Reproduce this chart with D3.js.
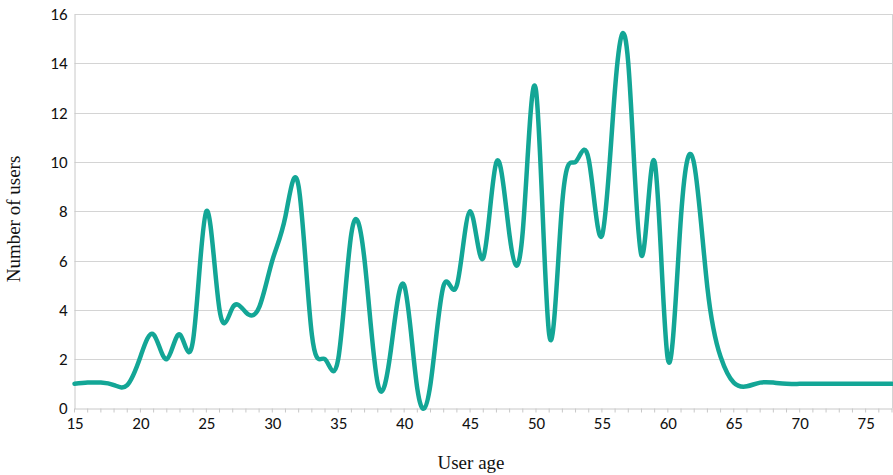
<!DOCTYPE html>
<html><head><meta charset="utf-8">
<script src="https://cdn.jsdelivr.net/npm/d3@7/dist/d3.min.js"></script>
<style>body{margin:0;background:#fff}svg{display:block}</style>
</head><body>
<svg id="chart" width="893" height="475"></svg>
<script>
const ages = d3.range(15, 78);
const users = [
  1, 1.05, 1.05, 0.95, 0.95, 2.1, 3, 2, 3, 2.8,      // 15-24
  8, 4.0, 4.1, 3.9, 4.1, 6, 7.8, 9.0, 3, 2,          // 25-34
  2, 7.1, 6, 1, 2.4, 5, 0.8, 1, 5, 5,                // 35-44
  8, 6.1, 10, 7, 7.2, 12.9, 3.0, 8.4, 10, 10.1,      // 45-54
  7, 13, 14.0, 6.2, 10, 2.0, 7.8, 9.9, 4.9, 2.1,     // 55-64
  1.05, 0.9, 1.05, 1.05, 1, 1, 1, 1, 1, 1,           // 65-74
  1, 1, 1                                            // 75-77
];
const xTicks = [15,20,25,30,35,40,45,50,55,60,65,70,75];
const yTicks = [0,2,4,6,8,10,12,14,16];
const xLabel = "User age";
const yLabel = "Number of users";

const svg = d3.select("#chart");
const mL = 74.5, mR = 892, mT = 14, mB = 408.5;
const x = d3.scaleLinear().domain([15, 77]).range([mL, mR]);
const y = d3.scaleLinear().domain([0, 16]).range([mB, mT]);

// grid
svg.append("g").selectAll("line").data(yTicks.filter(d=>d>0)).join("line")
  .attr("x1", mL).attr("x2", mR)
  .attr("y1", d=>Math.round(y(d))+0.5).attr("y2", d=>Math.round(y(d))+0.5)
  .attr("stroke", "#d4d4d4").attr("stroke-width", 1);
// right border
svg.append("line").attr("x1", mR+0.5).attr("x2", mR+0.5).attr("y1", mT).attr("y2", mB)
  .attr("stroke", "#d4d4d4");

// y axis
const yAxis = svg.append("g").attr("transform", `translate(${mL},0)`)
  .call(d3.axisLeft(y).tickValues(yTicks).tickSize(0).tickPadding(7));
yAxis.select(".domain").attr("stroke", "#c8c8c8");
yAxis.selectAll("text").attr("font-family", "Carlito, 'Liberation Sans', sans-serif").attr("font-size", 17).attr("fill", "#111");

// x axis
const xAxis = svg.append("g").attr("transform", `translate(0,${mB})`)
  .call(d3.axisBottom(x).tickValues(xTicks).tickFormat(d3.format("d")).tickSize(0).tickPadding(8));
xAxis.select(".domain").attr("stroke", "#c8c8c8");
xAxis.selectAll("text").attr("font-family", "Carlito, 'Liberation Sans', sans-serif").attr("font-size", 17).attr("fill", "#111");
svg.append("g").attr("transform", `translate(0,${mB})`).selectAll("line").data(ages).join("line")
  .attr("x1", d=>x(d)).attr("x2", d=>x(d)).attr("y1", 0).attr("y2", 4)
  .attr("stroke", "#c8c8c8");

// line
const line = d3.line().x((d,i)=>x(ages[i])).y(d=>y(d)).curve(d3.curveNatural);
svg.append("path").datum(users).attr("d", line)
  .attr("fill", "none").attr("stroke", "#13a696").attr("stroke-width", 4.5)
  .attr("stroke-linejoin", "round").attr("stroke-linecap", "round");

// labels
svg.append("text").attr("x", 471).attr("y", 469).attr("text-anchor", "middle")
  .attr("font-family", "'Liberation Serif', serif").attr("font-size", 19).attr("fill", "#111").text(xLabel);
svg.append("text").attr("transform", "translate(20,219) rotate(-90)").attr("text-anchor", "middle")
  .attr("font-family", "'Liberation Serif', serif").attr("font-size", 19).attr("fill", "#111").text(yLabel);
</script>
</body></html>
